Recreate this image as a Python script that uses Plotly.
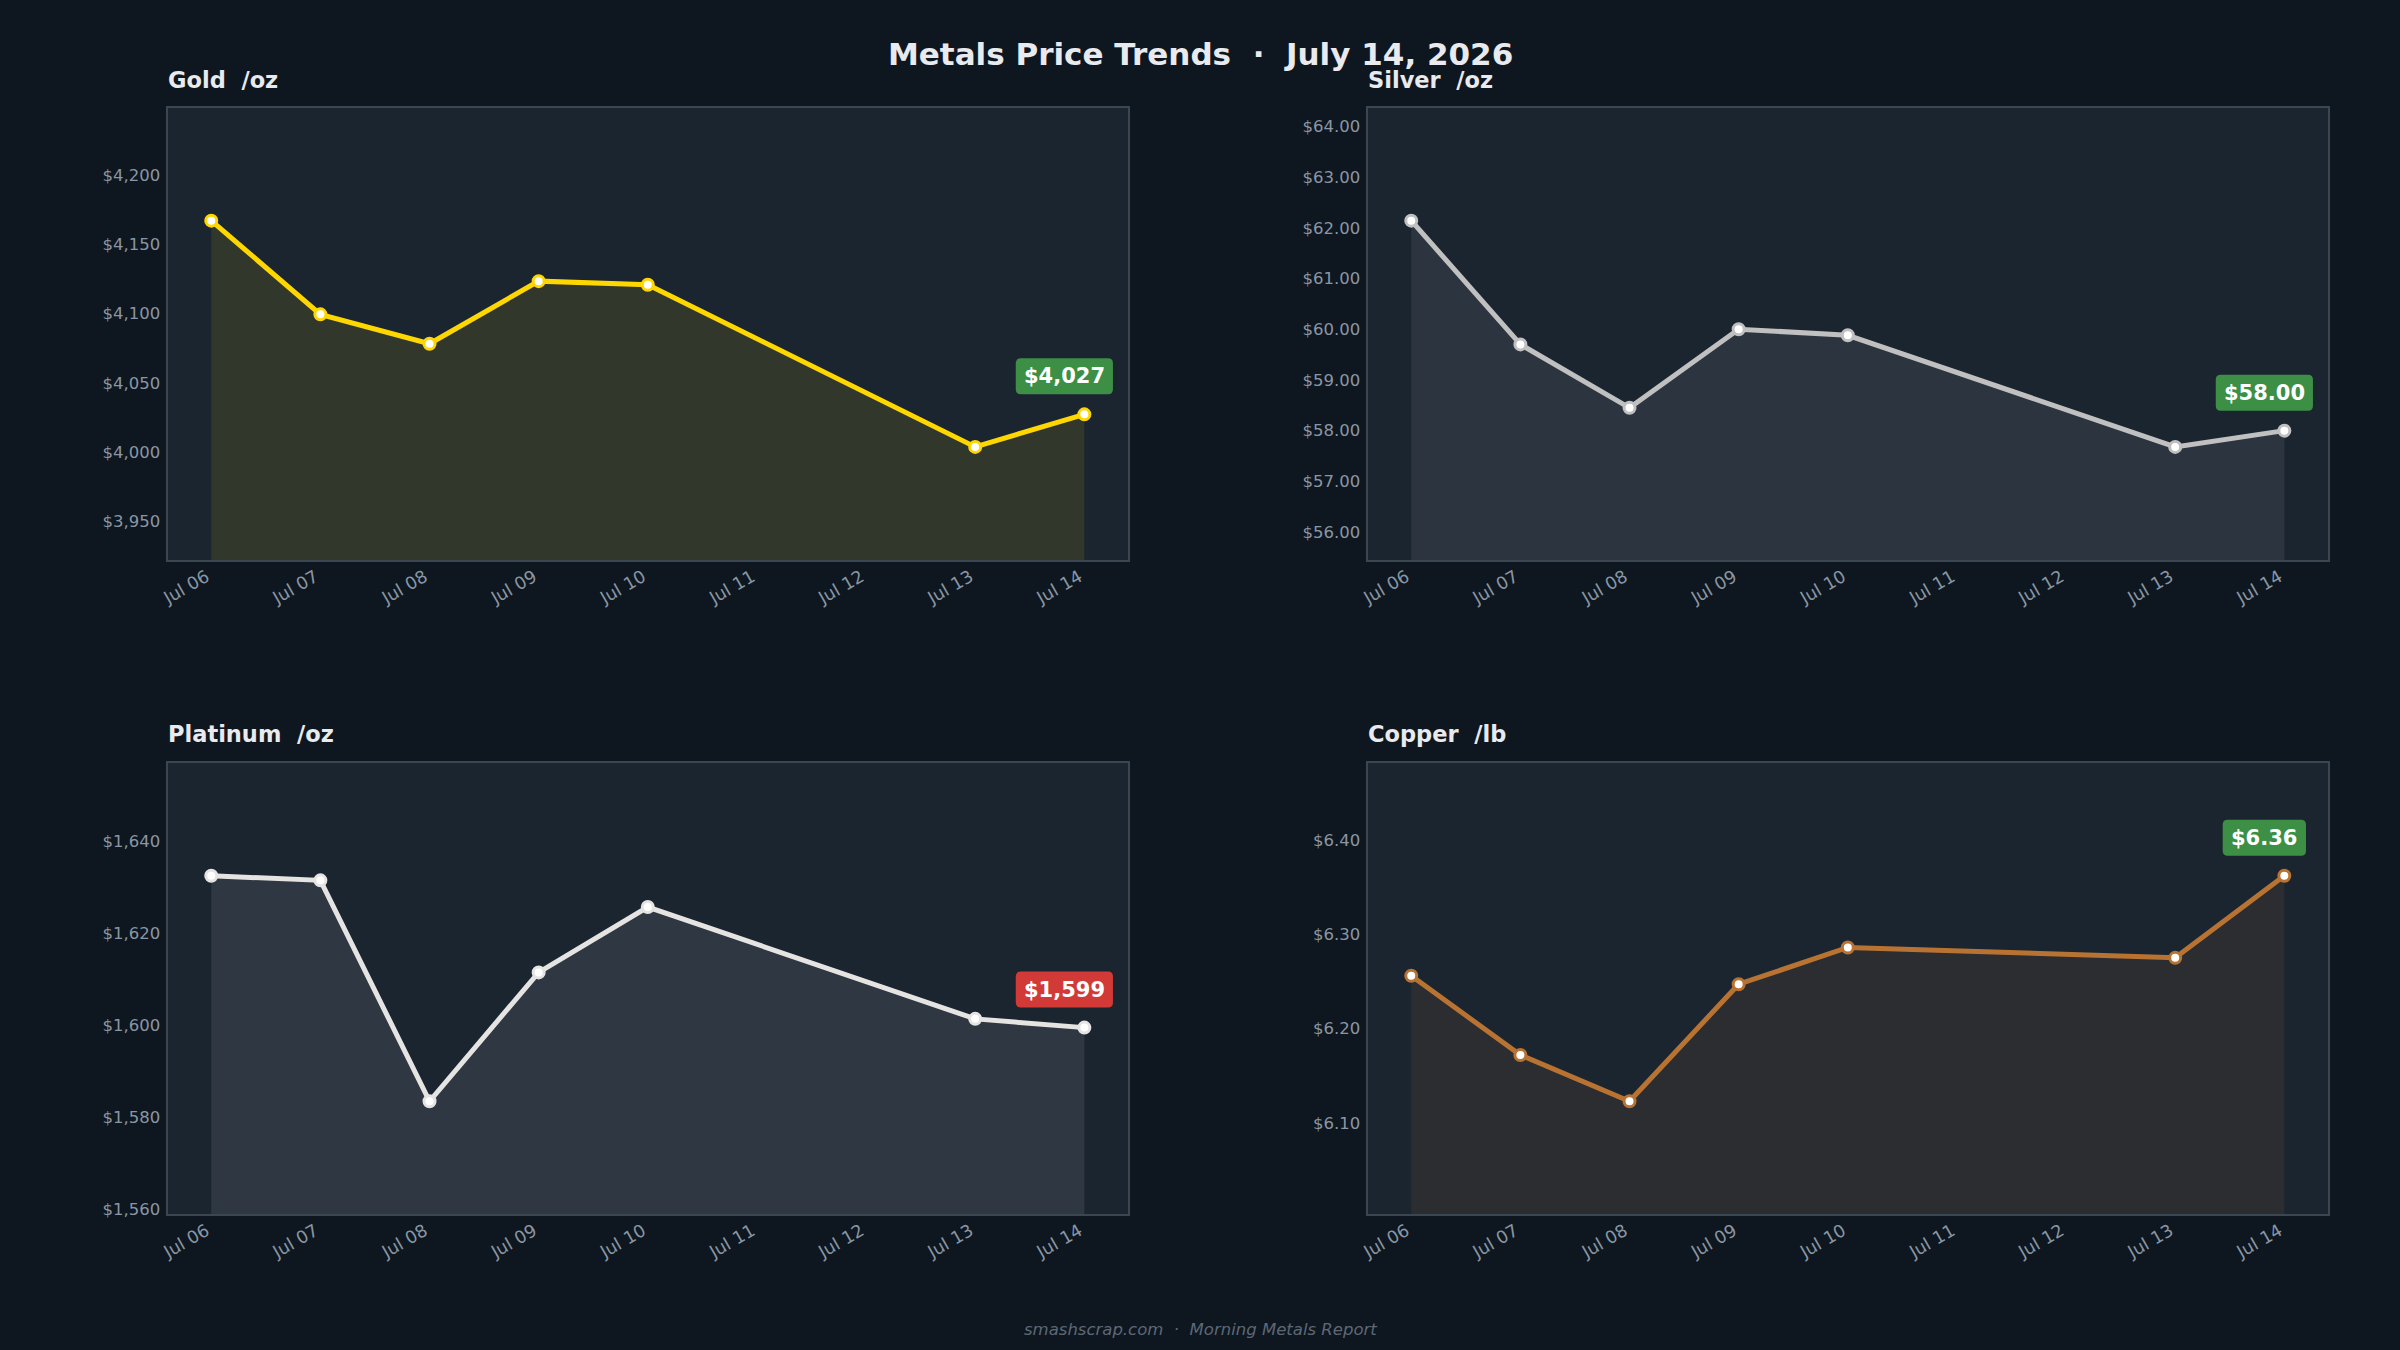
import plotly.graph_objects as go

# ---------------- data ----------------
dates = ["2026-07-06", "2026-07-07", "2026-07-08", "2026-07-09",
         "2026-07-10", "2026-07-13", "2026-07-14"]
gold = [4167.2, 4099.5, 4078.3, 4123.5, 4120.9, 4003.8, 4027.3]
silver = [62.14, 59.70, 58.45, 60.00, 59.88, 57.68, 58.00]
platinum = [1632.4, 1631.4, 1583.4, 1611.4, 1625.6, 1601.3, 1599.4]
copper = [6.256, 6.172, 6.123, 6.247, 6.286, 6.275, 6.362]

metal_names = ["Gold", "Silver", "Platinum", "Copper"]
metal_units = ["/oz", "/oz", "/oz", "/lb"]
metal_colors = ["#FFD700", "#C0C0C0", "#E5E4E2", "#B87333"]
value_formats = [",.0f", ".2f", ",.0f", ".2f"]
y_dticks = [50, 1, 20, 0.1]
series = [gold, silver, platinum, copper]

title_text = "Metals Price Trends  ·  July 14, 2026"
footer_text = "smashscrap.com  ·  Morning Metals Report"

# ---------------- style ----------------
PAPER = "#0e1620"
PLOT = "#1b2530"
BORDER = "#3a4652"
TICK = "#8a96a3"
TEXT = "#e8eaed"
UP = "#3c8f45"
DOWN = "#d13a36"
FONT = "DejaVu Sans"
W, H = 2400, 1350

x_domains = [[167.6 / W, 1128 / W], [1367.6 / W, 2328 / W]]
y_domains = [[1 - 560 / H, 1 - 107.5 / H], [1 - 1214 / H, 1 - 763 / H]]
title_y = [1 - 80 / H, 1 - 734 / H]
x_range = ["2026-07-05 14:24", "2026-07-14 09:36"]


def rgba(hexc, a):
    h = hexc.lstrip("#")
    r, g, b = int(h[0:2], 16), int(h[2:4], 16), int(h[4:6], 16)
    return f"rgba({r},{g},{b},{a})"


# approximate DejaVu Sans Bold advance widths (em)
CHW = {"$": 0.696, ",": 0.380, ".": 0.380}


def text_w(s, size):
    return sum(CHW.get(c, 0.696) for c in s) * size


def rounded_rect(x0, x1, y0, y1, r):
    return (f"M {x0 + r},{y0} L {x1 - r},{y0} Q {x1},{y0} {x1},{y0 + r} "
            f"L {x1},{y1 - r} Q {x1},{y1} {x1 - r},{y1} L {x0 + r},{y1} "
            f"Q {x0},{y1} {x0},{y1 - r} L {x0},{y0 + r} Q {x0},{y0} {x0 + r},{y0} Z")


fig = go.Figure()
layout = dict(
    width=W, height=H,
    paper_bgcolor=PAPER, plot_bgcolor=PLOT,
    margin=dict(l=0, r=0, t=0, b=0, autoexpand=False),
    showlegend=False,
    font=dict(family=FONT, color=TICK),
)
annotations = []
shapes = []

for i, (name, unit, col, fmt, dt, vals) in enumerate(
        zip(metal_names, metal_units, metal_colors, value_formats, y_dticks, series)):
    row, colidx = divmod(i, 2)
    n = i + 1
    xa = "x" if n == 1 else f"x{n}"
    ya = "y" if n == 1 else f"y{n}"
    fig.add_trace(go.Scatter(
        x=dates, y=vals, xaxis=xa, yaxis=ya,
        mode="lines+markers",
        line=dict(color=col, width=5),
        marker=dict(size=11, color="#ffffff", line=dict(color=col, width=3)),
        fill="tozeroy", fillcolor=rgba(col, 0.1),
        hoverinfo="x+y",
    ))
    vmin, vmax = min(vals), max(vals)
    span = vmax - vmin
    axis_common = dict(showgrid=False, zeroline=False, showline=True, mirror=True,
                       linecolor=BORDER, linewidth=2, automargin=False)
    layout["xaxis" if n == 1 else f"xaxis{n}"] = dict(
        domain=x_domains[colidx], anchor=ya, type="date", range=x_range,
        tick0=dates[0], dtick=86400000, tickformat="%b %d", tickangle=-30,
        tickfont=dict(size=17.5, color=TICK), ticks="",
        ticklabelstandoff=-2, ticklabelshift=-5,
        **axis_common)
    layout["yaxis" if n == 1 else f"yaxis{n}"] = dict(
        domain=y_domains[row],
        anchor=xa, range=[vmin - span / 2, vmax + span / 2],
        dtick=dt, tickprefix="$", tickformat=fmt,
        tickfont=dict(size=16.5, color=TICK), ticks="", ticklabelstandoff=2,
        **axis_common)
    # subplot title
    annotations.append(dict(
        x=x_domains[colidx][0], y=title_y[row], xref="paper", yref="paper",
        xanchor="left", yanchor="middle", showarrow=False, xshift=-2,
        text=f"<b>{name}  {unit}</b>", font=dict(size=22.5, color=TEXT, family=FONT)))
    # last value badge
    last = vals[-1]
    label = "$" + format(last, fmt)
    badge_col = UP if last >= vals[-2] else DOWN
    bw = text_w(label, 20) + 20
    cx = -20
    shapes.append(dict(
        type="path", xref=xa, yref=ya, xsizemode="pixel", ysizemode="pixel",
        xanchor=dates[-1], yanchor=last,
        path=rounded_rect(cx - bw / 2, cx + bw / 2, 20, 56, 5),
        fillcolor=badge_col, line=dict(width=0), layer="above"))
    annotations.append(dict(
        x=dates[-1], y=last, xref=xa, yref=ya, showarrow=False,
        xanchor="center", yanchor="middle", xshift=cx, yshift=38,
        text=f"<b>{label}</b>", font=dict(size=21, color="#ffffff", family=FONT)))

annotations.append(dict(
    x=0.5, y=1 - 54 / H, xref="paper", yref="paper", xanchor="center", yanchor="middle",
    showarrow=False, text=f"<b>{title_text}</b>",
    font=dict(size=31, color=TEXT, family=FONT)))
annotations.append(dict(
    x=0.5, y=1 - 1329 / H, xref="paper", yref="paper", xanchor="center", yanchor="middle",
    showarrow=False, text=f"<i>{footer_text}</i>",
    font=dict(size=16.5, color="#5d6875", family=FONT)))

layout["annotations"] = annotations
layout["shapes"] = shapes
fig.update_layout(**layout)
fig.write_html("out.html")
